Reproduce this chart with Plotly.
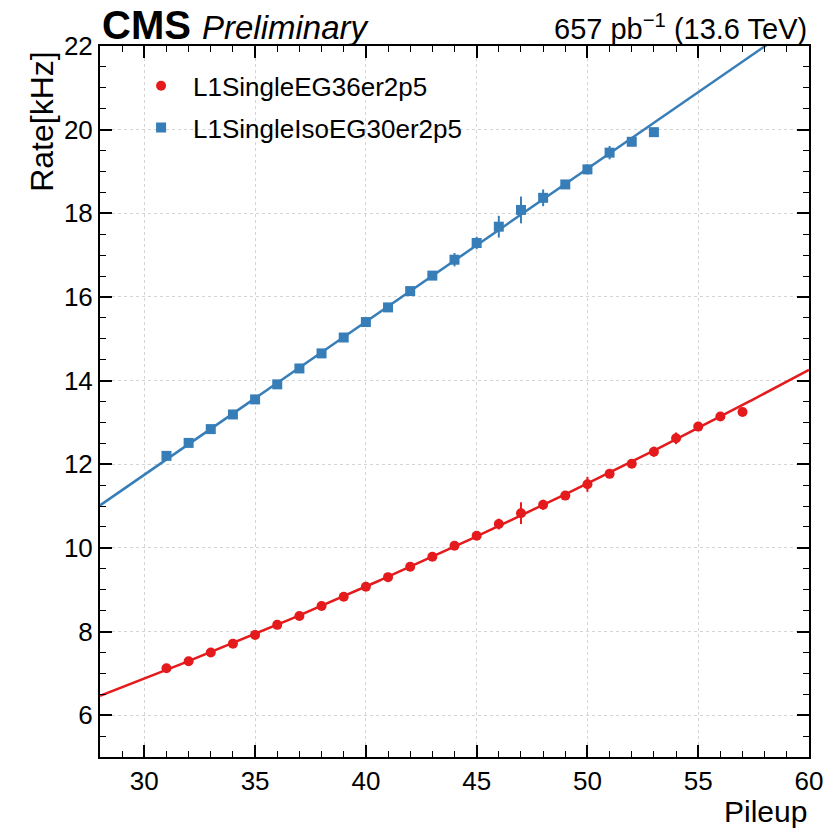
import numpy as np
import plotly.graph_objects as go

# Pileup bins
pileup_eg36 = [31, 32, 33, 34, 35, 36, 37, 38, 39, 40, 41, 42, 43, 44, 45, 46,
               47, 48, 49, 50, 51, 52, 53, 54, 55, 56, 57]
rate_eg36 = [7.12, 7.29, 7.50, 7.71, 7.92, 8.16, 8.37, 8.61, 8.83, 9.07, 9.30,
             9.55, 9.79, 10.05, 10.29, 10.57, 10.83, 11.03, 11.25, 11.52, 11.77,
             12.01, 12.30, 12.62, 12.90, 13.14, 13.25]
err_eg36 = [0.06, 0.06, 0.06, 0.06, 0.06, 0.06, 0.06, 0.06, 0.06, 0.06, 0.07,
            0.07, 0.07, 0.08, 0.10, 0.13, 0.26, 0.12, 0.08, 0.18, 0.09, 0.09,
            0.12, 0.14, 0.08, 0.08, 0.08]

pileup_iso30 = [31, 32, 33, 34, 35, 36, 37, 38, 39, 40, 41, 42, 43, 44, 45, 46,
                47, 48, 49, 50, 51, 52, 53]
rate_iso30 = [12.20, 12.51, 12.84, 13.19, 13.55, 13.91, 14.29, 14.65, 15.03,
              15.40, 15.75, 16.14, 16.51, 16.89, 17.29, 17.68, 18.08, 18.37,
              18.69, 19.05, 19.45, 19.71, 19.94]
err_iso30 = [0.08, 0.08, 0.08, 0.08, 0.08, 0.08, 0.08, 0.08, 0.08, 0.08, 0.08,
             0.10, 0.08, 0.16, 0.15, 0.26, 0.32, 0.20, 0.10, 0.12, 0.16, 0.08,
             0.08]

labels = ["L1SingleEG36er2p5", "L1SingleIsoEG30er2p5"]
colors = ["#e41a1c", "#377eb8"]
symbols = ["circle", "square"]

x_range = [28, 60]
y_range = [5, 22]

FONT = "Liberation Sans, Arial, sans-serif"

fig = go.Figure()

series = [
    (pileup_eg36, rate_eg36, err_eg36),
    (pileup_iso30, rate_iso30, err_iso30),
]

# second-order polynomial fit (last, low-statistics bin left out),
# drawn across the full pileup range
x_fit = np.linspace(x_range[0], x_range[1], 200)
for (px, ry, ey), col in zip(series, colors):
    coef = np.polyfit(px[:-1], ry[:-1], 2)
    fig.add_trace(go.Scatter(
        x=x_fit, y=np.polyval(coef, x_fit), mode="lines",
        line=dict(color=col, width=2.5), showlegend=False, hoverinfo="skip",
    ))

for i, ((px, ry, ey), lab, col, sym) in enumerate(zip(series, labels, colors, symbols)):
    fig.add_trace(go.Scatter(
        x=px, y=ry, mode="markers", name=lab, legendgroup=lab,
        marker=dict(color=col, symbol=sym, size=10, line=dict(width=0)),
        error_y=dict(type="data", array=ey, visible=True, color=col,
                     thickness=2, width=0),
    ))

axis_common = dict(
    showline=True, linecolor="black", linewidth=2, mirror="allticks",
    ticks="inside", ticklen=12, tickwidth=1.5, tickcolor="black",
    showgrid=True, gridcolor="#d4d4d4", griddash="dot", gridwidth=1,
    zeroline=False,
    tickfont=dict(family=FONT, size=26, color="black"),
)

fig.update_xaxes(
    range=x_range, tick0=30, dtick=5,
    minor=dict(ticks="inside", ticklen=6, tickwidth=1.2, tickcolor="black",
               dtick=1, tick0=28, showgrid=False),
    **axis_common,
)
fig.update_yaxes(
    range=y_range, tick0=6, dtick=2,
    minor=dict(ticks="inside", ticklen=6, tickwidth=1.2, tickcolor="black",
               dtick=0.5, tick0=5, showgrid=False),
    **axis_common,
)

annotations = [
    dict(text="<b>CMS</b>", x=0.0, y=1.0, xref="paper", yref="paper",
         xanchor="left", yanchor="bottom", yshift=-3, showarrow=False,
         font=dict(family=FONT, size=40, color="black")),
    dict(text="<i>Preliminary</i>", x=0.141, y=1.0, xref="paper", yref="paper",
         xanchor="left", yanchor="bottom", yshift=-2, showarrow=False,
         font=dict(family=FONT, size=33, color="black")),
    dict(text="657 pb<sup>\u22121</sup> (13.6 TeV)", x=1.0, y=1.0,
         xref="paper", yref="paper", xanchor="right", yanchor="bottom",
         yshift=-1, showarrow=False,
         font=dict(family=FONT, size=29, color="black")),
    dict(text="Rate[kHz]", x=-0.081, y=0.994, xref="paper", yref="paper",
         xanchor="center", yanchor="top", textangle=-90, showarrow=False,
         font=dict(family=FONT, size=32, color="black")),
    dict(text="Pileup", x=1.0, y=-0.077, xref="paper", yref="paper",
         xanchor="right", yanchor="middle", showarrow=False,
         font=dict(family=FONT, size=30, color="black")),
]

fig.update_layout(
    width=835, height=834,
    margin=dict(l=100, r=22, t=46, b=77),
    paper_bgcolor="white", plot_bgcolor="white",
    annotations=annotations,
    showlegend=True,
    legend=dict(x=0.041, y=0.977, xanchor="left", yanchor="top",
                bgcolor="rgba(0,0,0,0)", tracegroupgap=5, itemwidth=54,
                font=dict(family=FONT, size=26, color="black")),
)

fig.write_html("out.html")
